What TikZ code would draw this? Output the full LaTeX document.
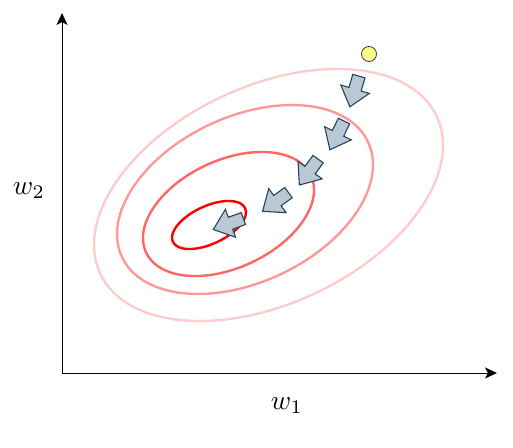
\documentclass[tikz,border=0pt]{standalone}
\usetikzlibrary{shapes.arrows,arrows.meta}
\definecolor{ringA}{HTML}{FFCCCC}
\definecolor{ringB}{HTML}{FF9999}
\definecolor{ringC}{HTML}{FF6666}
\definecolor{ringD}{HTML}{FF0000}
\definecolor{stepfill}{HTML}{BAC8D3}
\definecolor{stepline}{HTML}{23445D}
\definecolor{startfill}{HTML}{FFFF88}
\definecolor{startline}{HTML}{36393D}
\begin{document}
\begin{tikzpicture}[
                x=1pt, y=1pt,
                axis/.style={line width=1pt, -{Stealth[length=12pt, width=11pt, inset=3pt]}},
                contour/.style={line width=2.4pt},
                gradstep/.style={single arrow, draw=stepline, fill=stepfill, line width=1.1pt,
                    minimum height=32pt, minimum width=0pt, inner sep=5.8pt,
                    single arrow head extend=8.5pt, single arrow tip angle=78},
                start/.style={circle, draw=startline, fill=startfill, line width=0.8pt,
                    minimum size=15pt, inner sep=0pt},
                label/.style={scale=2.75, transform shape},
            ]
            \useasboundingbox (0,0) rectangle (513,447);
            \coordinate (o) at (62,74);
            \coordinate (xend) at (497,74);
            \coordinate (yend) at (62,434);
            \draw[axis] (o) -- (xend);
            \draw[axis] (o) -- (yend);
            \node[label] (w1) at (287,41) {$w_1$};
            \node[label] (w2) at (29,256) {$w_2$};
            \draw[contour, ringA, rotate around={25:(268.5,252)}] (268.5,252) ellipse (185.7 and 108.8);
            \draw[contour, ringB, rotate around={25:(245,247.5)}] (245,247.5) ellipse (135.8 and 82.8);
            \draw[contour, ringC, rotate around={25:(228.5,233)}] (228.5,233) ellipse (91 and 53.7);
            \draw[contour, ringD, rotate around={25:(209,222)}] (209,222) ellipse (39.9 and 18.9);
            \node[start] (w0) at (369,393) {};
            \node[gradstep, rotate=-106.4] (s1) at (355.5,359.3) {};
            \node[gradstep, rotate=-116.3] (s2) at (338.7,315.1) {};
            \node[gradstep, rotate=-125.9] (s3) at (311,278.1) {};
            \node[gradstep, rotate=-144.2] (s4) at (278.7,247.3) {};
            \node[gradstep, rotate=-160] (s5) at (232,224.3) {};
            \end{tikzpicture}
\end{document}
